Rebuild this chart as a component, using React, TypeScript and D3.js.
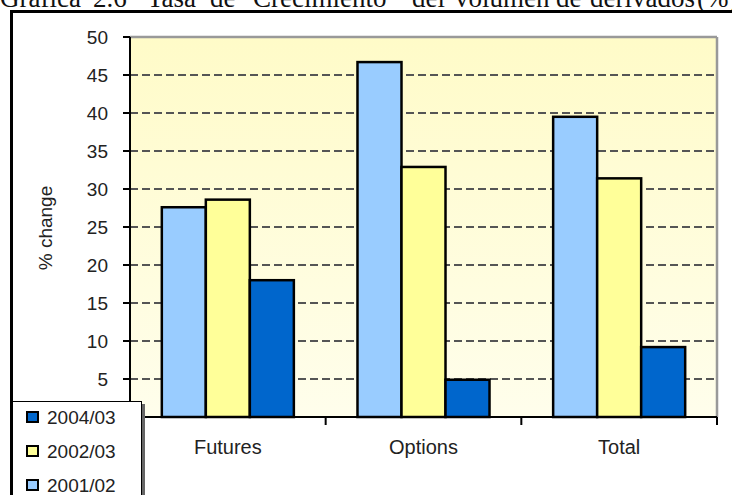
import React from "react";
import * as d3 from "d3";

const categories = ["Futures", "Options", "Total"];
const seriesNames = ["2001/02", "2002/03", "2004/03"];
const seriesColors = ["#99CCFF", "#FFFF99", "#0066CC"];
const values2001_02 = [27.6, 46.7, 39.5];
const values2002_03 = [28.6, 32.9, 31.4];
const values2004_03 = [18.0, 4.9, 9.2];
const seriesValues = [values2001_02, values2002_03, values2004_03];
const yTicks = [5, 10, 15, 20, 25, 30, 35, 40, 45, 50];
const legendOrder = ["2004/03", "2002/03", "2001/02"];
const titleWords: [string, number][] = [
  ["Gráfica", 0],
  ["2.6", 93],
  ["Tasa", 147],
  ["de", 210],
  ["Crecimiento", 253],
  ["del", 412],
  ["volumen", 455],
  ["de", 556],
  ["derivados", 590],
  ["(%)", 697],
];

export default function App() {
  const W = 732;
  const H = 495;
  const left = 130;
  const right = 717;
  const top = 37;
  const bottom = 417;

  const x0 = d3.scaleBand<string>().domain(categories).range([left, right]).padding(0);
  const x1 = d3
    .scaleBand<string>()
    .domain(seriesNames)
    .range([0, x0.bandwidth()])
    .paddingInner(0)
    .paddingOuter(0.723);
  const y = d3.scaleLinear().domain([0, 50]).range([bottom, top]);

  const sans = "'Liberation Sans', Arial, sans-serif";
  const textFill = "#222";

  return (
    <svg
      width={W}
      height={H}
      style={{ position: "absolute", left: 0, top: 0, background: "#fff" }}
    >
      <defs>
        <linearGradient id="plotbg" x1="0" y1="0" x2="0" y2="1">
          <stop offset="0%" stopColor="#FFFBC8" />
          <stop offset="100%" stopColor="#FFFEEC" />
        </linearGradient>
      </defs>

      {/* Title (cut off at the top) */}
      <g fontFamily="'Liberation Serif', 'Times New Roman', serif" fontSize={27} fill="#111">
        {titleWords.map(([w, xx], i) => (
          <text key={i} x={xx} y={7}>
            {w}
          </text>
        ))}
      </g>

      {/* Outer frame */}
      <rect x={11.5} y={11.5} width={W + 20} height={H + 20} fill="none" stroke="#000" strokeWidth={3} />

      {/* Plot area */}
      <rect x={left} y={top} width={right - left} height={bottom - top} fill="url(#plotbg)" />
      <line x1={left} x2={right} y1={top} y2={top} stroke="#999" strokeWidth={2.5} />
      <line x1={right} x2={right} y1={top} y2={bottom} stroke="#999" strokeWidth={2.5} />

      {/* Gridlines */}
      {yTicks
        .filter((t) => t < 50)
        .map((t) => (
          <line
            key={t}
            x1={left}
            x2={right}
            y1={y(t)}
            y2={y(t)}
            stroke="#555"
            strokeWidth={2}
            strokeDasharray="8,4"
          />
        ))}

      {/* Bars */}
      {categories.map((c, ci) => (
        <g key={c} transform={`translate(${x0(c)},0)`}>
          {seriesNames.map((s, si) => {
            const v = seriesValues[si][ci];
            return (
              <rect
                key={s}
                x={x1(s)}
                y={y(v)}
                width={x1.bandwidth()}
                height={y(0) - y(v)}
                fill={seriesColors[si]}
                stroke="#000"
                strokeWidth={2.5}
              />
            );
          })}
        </g>
      ))}

      {/* Y axis */}
      <line x1={left} x2={left} y1={top} y2={bottom} stroke="#000" strokeWidth={2} />
      {yTicks.map((t) => (
        <g key={t}>
          <line x1={left - 7} x2={left} y1={y(t)} y2={y(t)} stroke="#000" strokeWidth={2} />
          <text
            x={108}
            y={y(t)}
            dy="0.35em"
            textAnchor="end"
            fontFamily={sans}
            fontSize={19}
            fill={textFill}
          >
            {t}
          </text>
        </g>
      ))}
      <text
        transform={`translate(52,228) rotate(-90)`}
        textAnchor="middle"
        fontFamily={sans}
        fontSize={19}
        fill={textFill}
      >
        % change
      </text>

      {/* X axis */}
      <line x1={left} x2={right} y1={bottom} y2={bottom} stroke="#000" strokeWidth={2} />
      {[left, ...categories.map((c) => (x0(c) as number) + x0.bandwidth())].map((xx, i) => (
        <line key={i} x1={xx} x2={xx} y1={bottom} y2={bottom + 8} stroke="#000" strokeWidth={2} />
      ))}
      {categories.map((c) => (
        <text
          key={c}
          x={(x0(c) as number) + x0.bandwidth() / 2}
          y={454}
          textAnchor="middle"
          fontFamily={sans}
          fontSize={20}
          fill={textFill}
        >
          {c}
        </text>
      ))}

      {/* Legend */}
      <rect x={15} y={404} width={130} height={100} fill="#666" />
      <rect x={12.5} y={401.5} width={129} height={100} fill="#fff" stroke="#000" strokeWidth={1} />
      {legendOrder.map((name, i) => {
        const si = seriesNames.indexOf(name);
        const cy = 417 + i * 34;
        return (
          <g key={name}>
            <rect
              x={27}
              y={cy - 5}
              width={11}
              height={10}
              fill={seriesColors[si]}
              stroke="#000"
              strokeWidth={2}
            />
            <text x={47} y={cy + 7} fontFamily={sans} fontSize={19} fill={textFill}>
              {name}
            </text>
          </g>
        );
      })}
    </svg>
  );
}
